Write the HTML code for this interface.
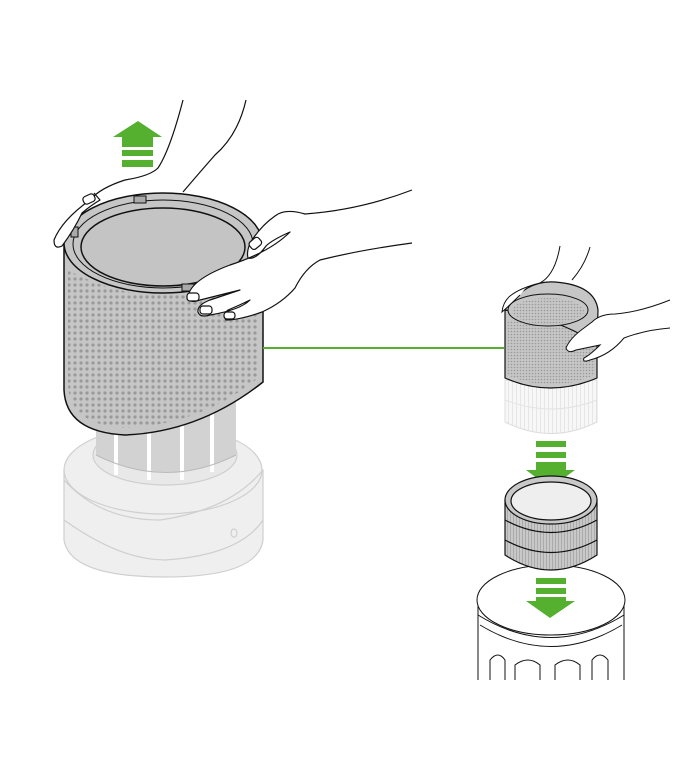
<!DOCTYPE html>
<html><head><style>html,body{margin:0;padding:0;background:#fff}svg{display:block}</style></head>
<body>
<svg width="690" height="780" viewBox="0 0 690 780" xmlns="http://www.w3.org/2000/svg">
<defs>
<pattern id="dots" width="6" height="6" patternUnits="userSpaceOnUse">
<circle cx="3" cy="3" r="1.6" fill="#999"/>
</pattern>
<pattern id="dots2" width="3" height="3" patternUnits="userSpaceOnUse">
<circle cx="1.5" cy="1.5" r="0.8" fill="#999"/>
</pattern>
<pattern id="ribs" width="3" height="10" patternUnits="userSpaceOnUse">
<rect width="3" height="10" fill="#c8c8c8"/><rect width="1" height="10" fill="#aaa"/>
</pattern>
<pattern id="fribs" width="4" height="10" patternUnits="userSpaceOnUse">
<rect width="4" height="10" fill="#f7f7f7"/><rect width="1" height="10" fill="#e6e6e6"/>
</pattern>
</defs>

<!-- Base (faded) -->
<g stroke="#cfcfcf" stroke-width="1.2" fill="#efefef">
<path d="M64,470 L64,540 Q70,577 165,577 Q258,577 263,540 L263,470 Z"/>
<ellipse cx="163" cy="470" rx="99" ry="44"/>
<path d="M64,480 Q100,520 160,520 Q230,510 263,470" fill="none"/>
<path d="M64,520 Q120,560 165,560 Q240,555 263,520" fill="none"/>
<ellipse cx="165" cy="455" rx="72" ry="30" fill="#e8e8e8"/>
<ellipse cx="234" cy="533" rx="3" ry="4" fill="none"/>
</g>
<!-- inner ribbed filter -->
<path d="M96,395 L236,395 L236,455 Q166,490 96,455 Z" fill="#d2d2d2"/>
<g fill="#fff">
<rect x="114" y="400" width="4" height="75"/>
<rect x="147" y="400" width="4" height="80"/>
<rect x="180" y="400" width="4" height="80"/>
<rect x="210" y="400" width="4" height="72"/>
</g>
<path d="M96,455 Q166,490 236,455" fill="none" stroke="#bbb"/>

<!-- Big shroud -->
<path d="M64,245 L64,390 Q66,432 125,435 Q200,432 263,382 L263,245 A99.5,50 0 0 0 64,245 Z" fill="#c6c6c6" stroke="#111" stroke-width="1.5"/>
<path d="M68,270 L68,385 Q70,425 125,428 Q200,425 258,378 L258,270 Q160,320 68,270 Z" fill="url(#dots)"/>
<ellipse cx="163" cy="243" rx="99" ry="50" fill="#c6c6c6" stroke="#111" stroke-width="1.5"/>
<ellipse cx="163" cy="244" rx="90" ry="44" fill="none" stroke="#111" stroke-width="1"/>
<ellipse cx="163" cy="247" rx="82" ry="39" fill="#c4c4c4" stroke="#111" stroke-width="1.5"/>
<rect x="134" y="196" width="12" height="7" fill="#aaa" stroke="#111"/>
<rect x="182" y="284" width="12" height="7" fill="#aaa" stroke="#111"/>
<rect x="71" y="227" width="7" height="10" fill="#aaa" stroke="#111"/>

<!-- Hands big -->
<g fill="#fff" stroke="#111" stroke-width="1.2" stroke-linejoin="round">
<path d="M183,100 Q170,150 158,168 Q150,176 125,180 Q100,188 90,200 Q62,220 54,240 Q54,250 62,246 Q74,230 82,213 Q90,206 100,200 L94,193"/>
<path d="M246,100 Q238,135 215,155 Q200,172 183,192" fill="none"/>
<path d="M412,190 Q360,210 305,214 Q285,208 275,216 Q262,225 252,240 Q246,250 248,258 Q256,260 266,246 Q272,240 290,232 Q270,252 230,265 Q190,280 188,297 Q190,304 200,300 L240,290 L210,300 Q197,305 198,312 Q200,318 210,315 Q240,310 250,300 Q240,305 228,310 Q222,315 226,320 Q240,320 262,312 Q282,303 295,288 Q305,268 320,260 Q360,250 412,243" />
<rect x="83" y="195" width="12" height="8" rx="3" transform="rotate(-25 89 199)"/>
<rect x="249" y="239" width="12" height="9" rx="3" transform="rotate(-40 255 243)"/>
<rect x="187" y="293" width="12" height="8" rx="3"/>
<rect x="200" y="306" width="12" height="8" rx="3"/>
<rect x="224" y="312" width="11" height="7" rx="3"/>
</g>

<!-- green arrow up -->
<g fill="#55b030">
<polygon points="138,121 162,137 153,137 153,147 122,147 122,137 113,137"/>
<rect x="122" y="150" width="31" height="6"/>
<rect x="122" y="160" width="31" height="7"/>
</g>

<!-- connector -->
<line x1="263" y1="348" x2="504" y2="348" stroke="#55b030" stroke-width="2"/>

<!-- small right assembly -->
<g>
<path d="M505,380 L505,422 Q551,445 597,422 L597,380 Z" fill="url(#fribs)" stroke="#ddd"/>
<path d="M505,400 Q551,418 597,400" fill="none" stroke="#e2e2e2"/>
<path d="M505,310 L505,378 Q550,398 597,378 L597,310 Z" fill="#c6c6c6" stroke="#111" stroke-width="1.2"/>
<path d="M507,320 L507,375 Q550,394 595,375 L595,320 Z" fill="url(#dots2)"/>
<path d="M505,310 Q525,280 555,282 Q595,285 598,310 Q598,330 590,340 Q560,320 505,310 Z" fill="#c6c6c6" stroke="#111" stroke-width="1.2"/>
<ellipse cx="548" cy="310" rx="40" ry="16" fill="#c6c6c6" stroke="#111"/>
<ellipse cx="548" cy="311" rx="36" ry="13" fill="url(#dots2)"/>
<g fill="#fff" stroke="#111" stroke-width="1">
<path d="M560,246 Q555,275 540,283 Q520,288 510,296 Q503,302 502,312 Q510,305 520,295"/>
<path d="M590,247 Q585,265 572,280" fill="none"/>
<path d="M670,300 Q640,312 615,314 Q600,314 592,322 L584,328 Q570,338 566,348 Q568,354 576,350 L600,345 Q590,355 584,358 Q582,363 590,360 Q610,355 624,338 Q645,330 670,328"/>
</g>
</g>

<!-- green arrow down 1 -->
<g fill="#55b030">
<rect x="536" y="441" width="30" height="6"/>
<rect x="536" y="452" width="30" height="6"/>
<polygon points="536,462 566,462 566,470 575,470 550,488 526,470 536,470"/>
</g>

<!-- bottom tall body -->
<g stroke="#111" stroke-width="1" fill="#fff">
<path d="M478,605 L478,680 M624,605 L624,680" />
<ellipse cx="551" cy="600" rx="74" ry="35"/>
<path d="M478,615 Q551,660 624,615" fill="none"/>
<path d="M480,625 Q551,668 622,625" fill="none"/>
<path d="M490,680 L490,660 Q498,650 505,660 L505,680 M515,680 L515,665 Q528,655 540,665 L540,680 M555,680 L555,665 Q568,655 580,665 L580,680 M592,680 L592,660 Q600,650 608,660 L608,680" fill="none"/>
</g>

<!-- filter ring -->
<g stroke="#111" stroke-width="1.2">
<path d="M505,500 L505,555 Q551,585 597,555 L597,500 Z" fill="url(#ribs)"/>
<path d="M505,520 Q551,545 597,520" fill="none"/>
<path d="M505,540 Q551,565 597,540" fill="none"/>
<ellipse cx="551" cy="500" rx="46" ry="24" fill="#c8c8c8"/>
<ellipse cx="551" cy="501" rx="40" ry="19" fill="#eee"/>
</g>

<!-- green arrow down 2 -->
<g fill="#55b030">
<rect x="536" y="578" width="30" height="6"/>
<rect x="536" y="588" width="30" height="6"/>
<polygon points="536,597 566,597 566,601 575,601 550,618 526,601 536,601"/>
</g>
</svg>
</body></html>
